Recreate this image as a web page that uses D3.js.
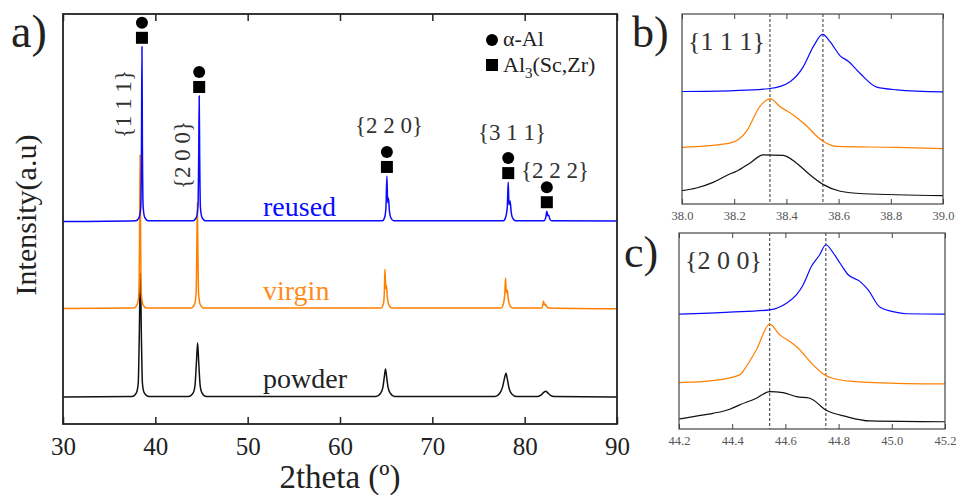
<!DOCTYPE html>
<html>
<head>
<meta charset="utf-8">
<script src="https://cdn.jsdelivr.net/npm/d3@7"></script>
<style>
  body { margin: 0; background: #fff; }
  svg text { font-family: "Liberation Serif", "Times New Roman", "DejaVu Serif", serif; }
</style>
</head>
<body>
<svg id="chart" width="957" height="496"></svg>
<script>
// ---- data ----
const mainTicks = [30, 40, 50, 60, 70, 80, 90]
const seriesNames = ["reused", "virgin", "powder"]
const seriesColors = ["#0a0aff", "#ff7f00", "#111111"]

// 2theta, intensity (a.u., curves already stacked)
const reusedPattern = [[30,49.4],[37.9,49.6],[38.25,50.4],[38.42,53],[38.5,68],[38.55,92],[38.6,68],[38.68,53],[38.85,50.4],[39.2,49.6],
  [44.1,49.6],[44.45,50.4],[44.62,53],[44.7,66],[44.75,80],[44.8,66],[44.88,53],[45.05,50.4],[45.4,49.6],
  [64.6,49.6],[64.85,50.5],[64.98,53],[65.08,60.5],[65.16,54],[65.25,55.1],[65.35,52],[65.5,50.3],[65.8,49.6],
  [77.7,49.6],[77.95,50.5],[78.12,53],[78.22,59],[78.3,53.5],[78.42,54.4],[78.55,51.5],[78.7,50.2],[79,49.6],
  [82.1,49.6],[82.28,50.3],[82.4,51.9],[82.5,50.8],[82.6,51],[82.72,50],[82.9,49.6],[90,49.5]]
const virginPattern = [[30,28.2],[37.7,28.3],[38.05,29.2],[38.22,32],[38.29,45],[38.35,65.6],[38.41,45],[38.48,32],[38.65,29.2],[39.0,28.3],
  [43.9,28.3],[44.25,29.2],[44.42,32],[44.49,42],[44.55,54.1],[44.61,42],[44.68,32],[44.85,29.2],[45.2,28.3],
  [64.45,28.3],[64.7,29.3],[64.8,32],[64.87,37.8],[64.95,33],[65.03,33.9],[65.12,31],[65.3,29],[65.6,28.3],
  [77.45,28.3],[77.7,29.3],[77.85,32],[77.93,35.6],[78.02,32],[78.12,32.7],[78.22,30.5],[78.4,28.9],[78.7,28.3],
  [81.8,28.3],[81.95,28.8],[82.05,30],[82.14,29],[82.25,29.2],[82.4,28.6],[82.6,28.3],[90,28.1]]
const powderPattern = [[30,6.6],[37.5,6.7],[37.95,7.6],[38.15,10],[38.25,20],[38.38,36.8],[38.5,20],[38.6,10],[38.8,7.6],[39.3,6.7],
  [43.6,6.7],[44.1,7.6],[44.3,9.5],[44.45,15],[44.58,19.8],[44.7,15],[44.85,9.5],[45.05,7.6],[45.5,6.7],
  [63.9,6.7],[64.4,7.5],[64.65,9],[64.8,11.5],[64.93,13.4],[65.05,11.5],[65.2,9],[65.45,7.5],[65.9,6.7],
  [76.8,6.7],[77.3,7.5],[77.6,9],[77.82,11.2],[77.98,12.4],[78.12,11],[78.3,8.8],[78.6,7.3],[79.1,6.7],
  [81.4,6.7],[81.8,7.1],[82.1,7.8],[82.3,8.0],[82.5,7.6],[82.8,7],[83.2,6.7],[90,6.6]]

// peak markers: 2theta, top of reused peak
const peakPos = [38.55, 44.75, 65.08, 78.22, 82.4]
const peakTop = [92, 80, 60.5, 59, 51.9]

// inset b {1 1 1}
const insetBTicks = [38.0, 38.2, 38.4, 38.6, 38.8, 39.0]
const insetBLines = [38.337, 38.54]
const reusedB = [[38.0,59.2],[38.2,59.7],[38.337,60.8],[38.414,64.4],[38.465,72.3],[38.503,82.8],[38.539,89.3],[38.567,85.5],[38.606,78],[38.638,75],[38.682,68.8],[38.746,61.5],[38.823,60.1],[39.0,59]]
const virginB = [[38.0,29.8],[38.183,32],[38.247,38.2],[38.298,51.3],[38.339,55.3],[38.375,51.3],[38.426,46.9],[38.465,42.6],[38.542,32.9],[38.593,30.3],[38.823,29.8],[39.0,29.1]]
const powderB = [[38.0,7],[38.055,8.4],[38.119,11.4],[38.177,15.4],[38.209,17.2],[38.26,21.5],[38.311,25.9],[38.388,25.6],[38.439,21.5],[38.49,15.4],[38.542,10.2],[38.606,6.7],[38.695,5.4],[39.0,4.4]]

// inset c {2 0 0}
const insetCTicks = [44.2, 44.4, 44.6, 44.8, 45.0, 45.2]
const insetCLines = [44.541, 44.752]
const reusedC = [[44.2,58.6],[44.391,59.6],[44.541,60.8],[44.604,64.2],[44.642,68.5],[44.667,73.6],[44.698,83],[44.729,88.9],[44.752,94],[44.78,89.8],[44.805,84.7],[44.836,78.7],[44.88,75.3],[44.911,71],[44.955,62.2],[45.018,59.5],[45.056,58.8],[45.2,58.6]]
const virginC = [[44.2,23.7],[44.328,24.7],[44.428,27.6],[44.453,31.9],[44.491,40.4],[44.541,53.5],[44.579,48],[44.617,44.6],[44.648,41.2],[44.698,33.6],[44.742,28.1],[44.792,25.4],[44.893,23.9],[45.018,23.3],[45.2,23]]
const powderC = [[44.2,5.1],[44.265,6.6],[44.328,8],[44.391,10.1],[44.428,12.3],[44.491,15.7],[44.541,19.1],[44.591,18.6],[44.642,16.5],[44.692,15.7],[44.752,9.7],[44.83,6.3],[44.918,4.1],[45.2,3.7]]

// ---- drawing ----
const svg = d3.select("#chart")

//--------- main panel a)
const m = { left: 63, right: 617, top: 14, bottom: 424 }
const x = d3.scaleLinear().domain([30, 90]).range([m.left, m.right])
const y = d3.scaleLinear().domain([0, 100]).range([m.bottom, m.top])
const lineMain = d3.line().curve(d3.curveMonotoneX).x(d => x(d[0])).y(d => y(d[1]))

const patterns = [reusedPattern, virginPattern, powderPattern]
// draw bottom first so blue sits on top
;[2, 1, 0].forEach(i => {
  svg.append("path").attr("d", lineMain(patterns[i]))
    .attr("fill", "none").attr("stroke", seriesColors[i]).attr("stroke-width", 1.5)
})

const gx = svg.append("g").attr("transform", "translate(0," + m.bottom + ")")
  .call(d3.axisBottom(x).tickValues(mainTicks).tickSizeInner(-7).tickSizeOuter(0).tickPadding(13))
gx.selectAll("text").attr("font-size", 25).attr("fill", "#222")
svg.append("g").attr("transform", "translate(0," + m.top + ")")
  .call(d3.axisTop(x).tickValues(mainTicks).tickSizeInner(-7).tickSizeOuter(0).tickFormat(""))
svg.selectAll(".domain").remove()
svg.selectAll(".tick line").attr("stroke", "#222").attr("stroke-width", 1.5)
svg.append("rect").attr("x", m.left).attr("y", m.top).attr("width", m.right - m.left).attr("height", m.bottom - m.top)
  .attr("fill", "none").attr("stroke", "#222").attr("stroke-width", 1.8)

// series labels
const labelY = [216, 300, 388]
seriesNames.forEach((name, i) => {
  svg.append("text").attr("x", 263).attr("y", labelY[i]).attr("font-size", 28)
    .attr("fill", i == 1 ? "#ff8c1a" : (i == 2 ? "#222" : seriesColors[0])).text(name)
})

// peak markers
peakPos.forEach((p, i) => {
  const px = x(p), py = y(peakTop[i])
  svg.append("rect").attr("x", px - 6).attr("y", py - 15).attr("width", 12).attr("height", 12).attr("fill", "#000")
  svg.append("circle").attr("cx", px).attr("cy", py - 24).attr("r", 6).attr("fill", "#000")
})

// hkl labels
svg.append("text").attr("transform", "translate(131,104) rotate(-90)").attr("text-anchor", "middle")
  .attr("font-size", 23).attr("fill", "#333").text("{1 1 1}")
svg.append("text").attr("transform", "translate(190,155) rotate(-90)").attr("text-anchor", "middle")
  .attr("font-size", 23).attr("fill", "#333").text("{2 0 0}")
svg.append("text").attr("x", 389).attr("y", 133).attr("text-anchor", "middle").attr("font-size", 23).attr("fill", "#333").text("{2 2 0}")
svg.append("text").attr("x", 512).attr("y", 140).attr("text-anchor", "middle").attr("font-size", 23).attr("fill", "#333").text("{3 1 1}")
svg.append("text").attr("x", 555).attr("y", 178).attr("text-anchor", "middle").attr("font-size", 23).attr("fill", "#333").text("{2 2 2}")

// legend
svg.append("circle").attr("cx", 492).attr("cy", 40).attr("r", 6).attr("fill", "#000")
svg.append("text").attr("x", 503).attr("y", 46).attr("font-size", 22).attr("fill", "#222").text("α-Al")
svg.append("rect").attr("x", 486).attr("y", 59).attr("width", 12).attr("height", 12).attr("fill", "#000")
const leg = svg.append("text").attr("x", 503).attr("y", 72).attr("font-size", 22).attr("fill", "#222")
leg.append("tspan").text("Al")
leg.append("tspan").attr("dy", 6).attr("font-size", 15).text("3")
leg.append("tspan").attr("dy", -6).text("(Sc,Zr)")

// axis titles and panel letters
svg.append("text").attr("transform", "translate(36,215) rotate(-90)").attr("text-anchor", "middle")
  .attr("font-size", 30).attr("fill", "#222").text("Intensity(a.u)")
svg.append("text").attr("x", 340).attr("y", 488).attr("text-anchor", "middle")
  .attr("font-size", 33).attr("fill", "#222").text("2theta (º)")
svg.append("text").attr("x", 11).attr("y", 47).attr("font-size", 46).attr("fill", "#222").text("a)")
svg.append("text").attr("x", 632).attr("y", 47).attr("font-size", 44).attr("fill", "#222").text("b)")
svg.append("text").attr("x", 624).attr("y", 267).attr("font-size", 44).attr("fill", "#222").text("c)")

//--------- insets
function drawInset(box, domain, ticks, vlines, curves, title) {
  const xs = d3.scaleLinear().domain(domain).range([box.left, box.right])
  const ys = d3.scaleLinear().domain([0, 100]).range([box.bottom, box.top])
  const g = svg.append("g")
  const line = d3.line().curve(d3.curveMonotoneX).x(d => xs(d[0])).y(d => ys(d[1]))
  vlines.forEach(v => {
    g.append("line").attr("x1", xs(v)).attr("x2", xs(v)).attr("y1", box.top).attr("y2", box.bottom)
      .attr("stroke", "#333").attr("stroke-width", 1).attr("stroke-dasharray", "3,2")
  })
  curves.forEach((c, i) => {
    g.append("path").attr("d", line(c)).attr("fill", "none").attr("stroke", seriesColors[i]).attr("stroke-width", 1.2)
  })
  const ax = g.append("g").attr("transform", "translate(0," + box.bottom + ")")
    .call(d3.axisBottom(xs).tickValues(ticks).tickSizeInner(-5).tickSizeOuter(0).tickPadding(7).tickFormat(d3.format(".1f")))
  ax.selectAll("text").attr("font-size", 12.5).attr("fill", "#555")
  g.append("g").attr("transform", "translate(0," + box.top + ")")
    .call(d3.axisTop(xs).tickValues(ticks).tickSizeInner(-5).tickSizeOuter(0).tickFormat(""))
  g.selectAll(".domain").remove()
  g.selectAll(".tick line").attr("stroke", "#444")
  g.append("rect").attr("x", box.left).attr("y", box.top).attr("width", box.right - box.left).attr("height", box.bottom - box.top)
    .attr("fill", "none").attr("stroke", "#444").attr("stroke-width", 1.2)
  g.append("text").attr("x", box.left + 6).attr("y", box.top + 36).attr("font-size", 26).attr("fill", "#333").text(title)
}

drawInset({ left: 682, right: 943, top: 14, bottom: 204 }, [38.0, 39.0], insetBTicks, insetBLines,
  [reusedB, virginB, powderB], "{1 1 1}")
drawInset({ left: 679, right: 945, top: 233, bottom: 429 }, [44.2, 45.2], insetCTicks, insetCLines,
  [reusedC, virginC, powderC], "{2 0 0}")
</script>
</body>
</html>
